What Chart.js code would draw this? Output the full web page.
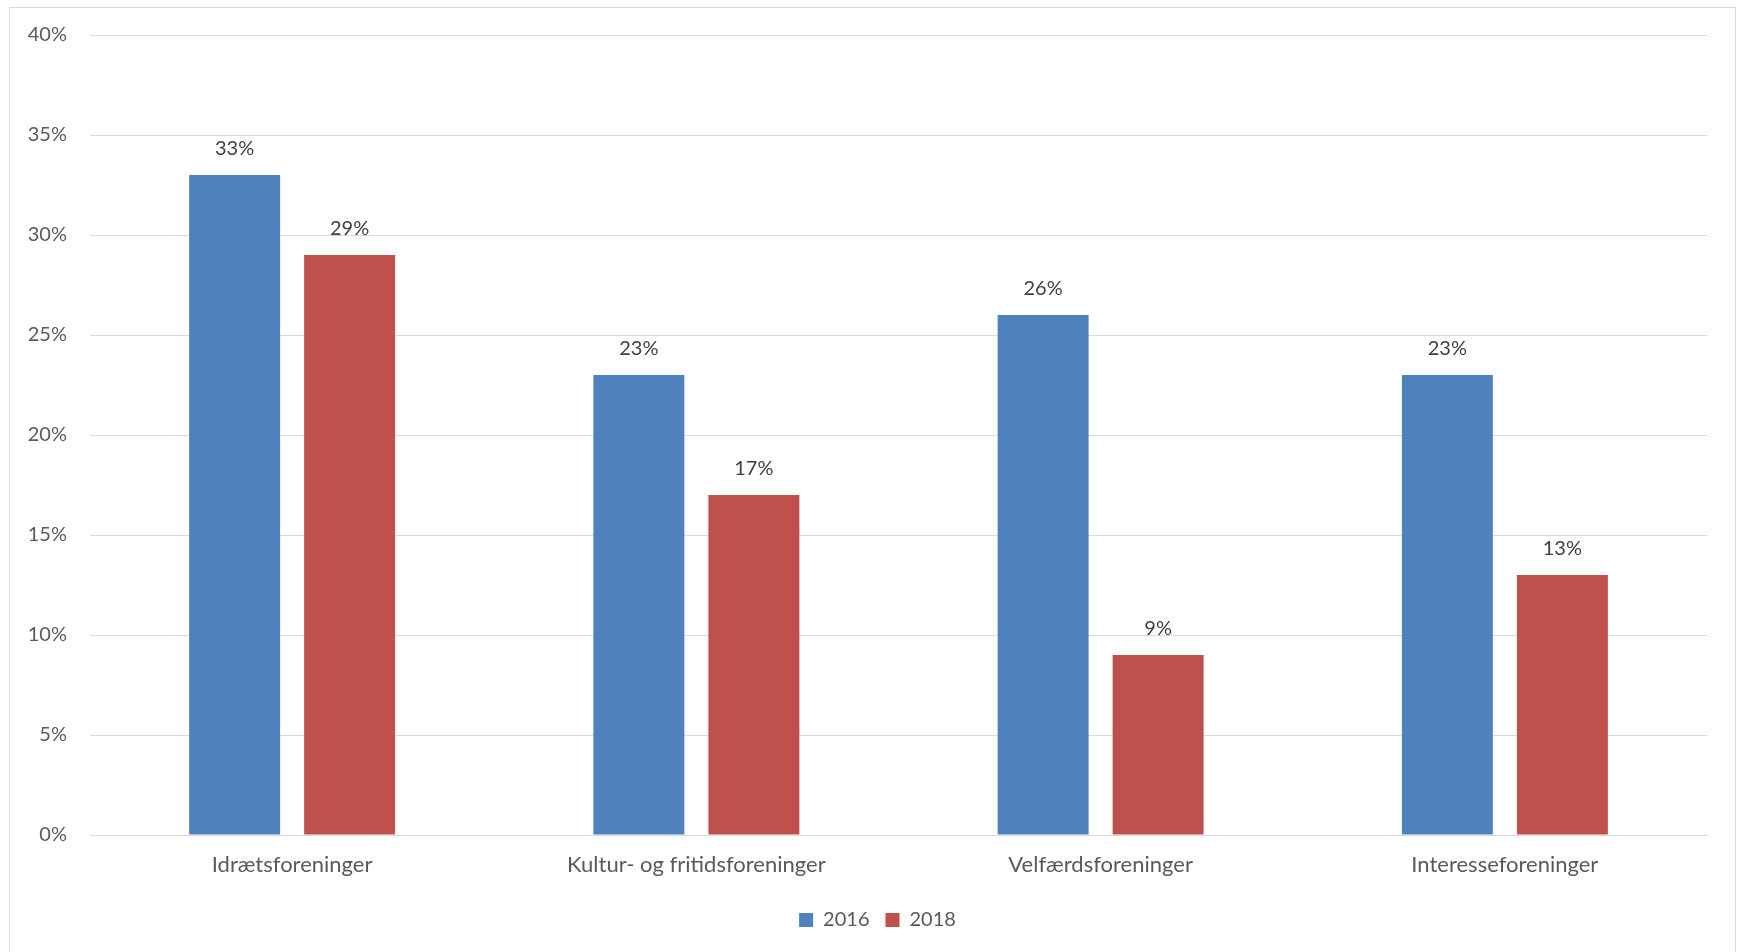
<!DOCTYPE html>
<html>
<head>
<meta charset="utf-8">
<script src="https://cdn.jsdelivr.net/npm/chart.js@4"></script>
<style>
  html, body { margin: 0; padding: 0; background: #fff; }
  #wrap { position: relative; width: 1739px; height: 952px; }
  #frame { position: absolute; left: 9px; top: 7px; width: 1727px; height: 950px; border: 1px solid #d9d9d9; box-sizing: border-box; }
  canvas { position: absolute; left: 0; top: 0; }
</style>
</head>
<body>
<div id="wrap">
  <div id="frame"></div>
  <canvas id="chart" width="1739" height="952"></canvas>
</div>
<script>
// Data
const categories = ["Idrætsforeninger", "Kultur- og fritidsforeninger", "Velfærdsforeninger", "Interesseforeninger"];
const values2016 = [33, 23, 26, 23];
const values2018 = [29, 17, 9, 13];
const yTicks = [0, 5, 10, 15, 20, 25, 30, 35, 40];

const FONT = "Lato";
const GREY = "#595959";

// labels above bars
const barLabels = {
  id: "barLabels",
  afterDatasetsDraw(chart) {
    const ctx = chart.ctx;
    ctx.save();
    ctx.font = "20px " + FONT;
    ctx.fillStyle = "#404040";
    ctx.textAlign = "center";
    ctx.textBaseline = "bottom";
    chart.data.datasets.forEach((ds, i) => {
      chart.getDatasetMeta(i).data.forEach((bar, j) => {
        ctx.fillText(ds.data[j] + "%", bar.x, bar.y - 16);
      });
    });
    ctx.restore();
  }
};

// legend is centred on the whole frame, not the plot
const legendShift = {
  id: "legendShift",
  afterLayout(chart) {
    chart.legend.left += 19;
    chart.legend.right += 19;
  }
};

new Chart(document.getElementById("chart"), {
  type: "bar",
  data: {
    labels: categories,
    datasets: [
      { label: "2016", data: values2016, backgroundColor: "#4f81bd" },
      { label: "2018", data: values2018, backgroundColor: "#c0504d" }
    ]
  },
  options: {
    responsive: false,
    animation: false,
    layout: { padding: { left: 10, right: 32, top: 35, bottom: 12 } },
    datasets: { bar: { categoryPercentage: 0.569, barPercentage: 0.791 } },
    scales: {
      x: {
        grid: { display: false },
        border: { color: "#d9d9d9", width: 1 },
        ticks: { color: GREY, font: { family: FONT, size: 22 }, padding: 9 },
        afterFit(scale) { scale.height = 59; }
      },
      y: {
        min: 0,
        max: 40,
        afterBuildTicks(scale) { scale.ticks = yTicks.map(v => ({ value: v })); },
        grid: { color: "#d9d9d9", drawTicks: false },
        border: { display: false },
        ticks: { color: GREY, font: { family: FONT, size: 20 }, padding: 23, callback: v => v + "%" },
        afterFit(scale) { scale.width = 80; }
      }
    },
    plugins: {
      legend: {
        position: "bottom",
        labels: { color: GREY, font: { family: FONT, size: 20 }, boxWidth: 14, boxHeight: 14, padding: 16 }
      },
      tooltip: { enabled: false }
    }
  },
  plugins: [barLabels, legendShift]
});
</script>
</body>
</html>
